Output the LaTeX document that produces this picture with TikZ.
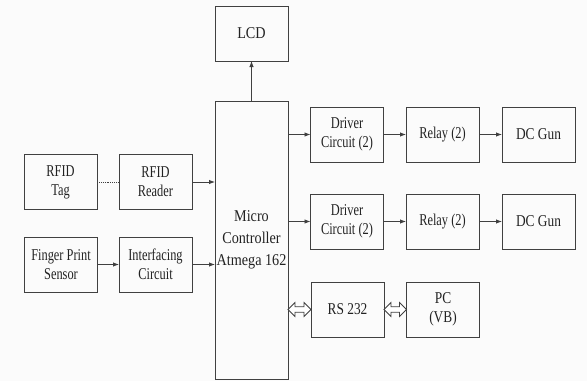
\documentclass[tikz,border=0pt]{standalone}
\usepackage{fontspec}
\setmainfont{Liberation Serif}
\newfontfamily\fnA[FakeStretch=0.75]{Liberation Serif}
\newfontfamily\fnB[FakeStretch=0.81]{Liberation Serif}
\newfontfamily\fnC[FakeStretch=0.86]{Liberation Serif}
\usetikzlibrary{arrows.meta,calc}
\definecolor{ln}{HTML}{404040}
\definecolor{tx}{HTML}{222222}
\newcommand\dblarr[2]{\draw[draw=ln,line width=0.8pt,fill=white,line join=miter] let \p1=(#1), \p2=(#2) in
  (\x1,\y1) -- (\x1+7pt,\y1+7pt) -- (\x1+7pt,\y1+2.8pt) -- (\x2-7pt,\y1+2.8pt) -- (\x2-7pt,\y1+7pt) -- (\x2,\y1)
  -- (\x2-7pt,\y1-7pt) -- (\x2-7pt,\y1-2.8pt) -- (\x1+7pt,\y1-2.8pt) -- (\x1+7pt,\y1-7pt) -- cycle;}
\begin{document}
\begin{tikzpicture}[x=1pt,y=-1pt,
  blk/.style={draw=ln,line width=0.9pt,minimum width=73pt,minimum height=55pt,inner sep=0pt,outer sep=0pt,align=center,text=tx,font=\fontsize{16.5}{19}\fnA},
  wideB/.style={font=\fontsize{16.5}{19}\fnB},
  wideC/.style={font=\fontsize{16.5}{22}\fnC},
  conn/.style={draw=ln,line width=0.9pt,-{Latex[length=6pt,width=4.5pt]}}]
\fill[white!97!gray] (0,0) rectangle (587,381);
\useasboundingbox (0,0) rectangle (587,381);
\node[blk,wideC] (lcd) at (251.5,33.5) {LCD};
\node[blk,wideC,minimum height=278pt] (mc) at (251.5,240) {Micro\\Controller\\Atmega 162};
\node[blk] (tag) at (60.5,182) {RFID\\Tag};
\node[blk] (rdr) at (155.5,182) {RFID\\Reader};
\node[blk] (fp) at (61,264.5) {Finger Print\\Sensor};
\node[blk] (ic) at (155.5,264.5) {Interfacing\\Circuit};
\node[blk] (d1) at (347,134.5) {Driver\\Circuit (2)};
\node[blk] (r1) at (442.5,134.5) {Relay (2)};
\node[blk,wideB] (g1) at (538.5,134.5) {DC Gun};
\node[blk] (d2) at (347,221.5) {Driver\\Circuit (2)};
\node[blk] (r2) at (442.5,221.5) {Relay (2)};
\node[blk,wideB] (g2) at (538.5,221.5) {DC Gun};
\node[blk,wideB] (rs) at (347.5,309.5) {RS 232};
\node[blk,wideB] (pc) at (443,309.5) {PC\\(VB)};
\draw[conn] (mc.north) -- (lcd.south);
\draw[draw=ln,line width=0.9pt,densely dotted] (tag.east) -- (rdr.west);
\draw[conn] (rdr.east) -- (rdr.east -| mc.west);
\draw[conn] (fp.east) -- (ic.west);
\draw[conn] (ic.east) -- (ic.east -| mc.west);
\draw[conn] (mc.east |- d1.west) -- (d1.west);
\draw[conn] (d1.east) -- (r1.west);
\draw[conn] (r1.east) -- (g1.west);
\draw[conn] (mc.east |- d2.west) -- (d2.west);
\draw[conn] (d2.east) -- (r2.west);
\draw[conn] (r2.east) -- (g2.west);
\coordinate (mcrs) at (mc.east |- rs.west);
\dblarr{mcrs}{rs.west}
\dblarr{rs.east}{pc.west}
\end{tikzpicture}
\end{document}
